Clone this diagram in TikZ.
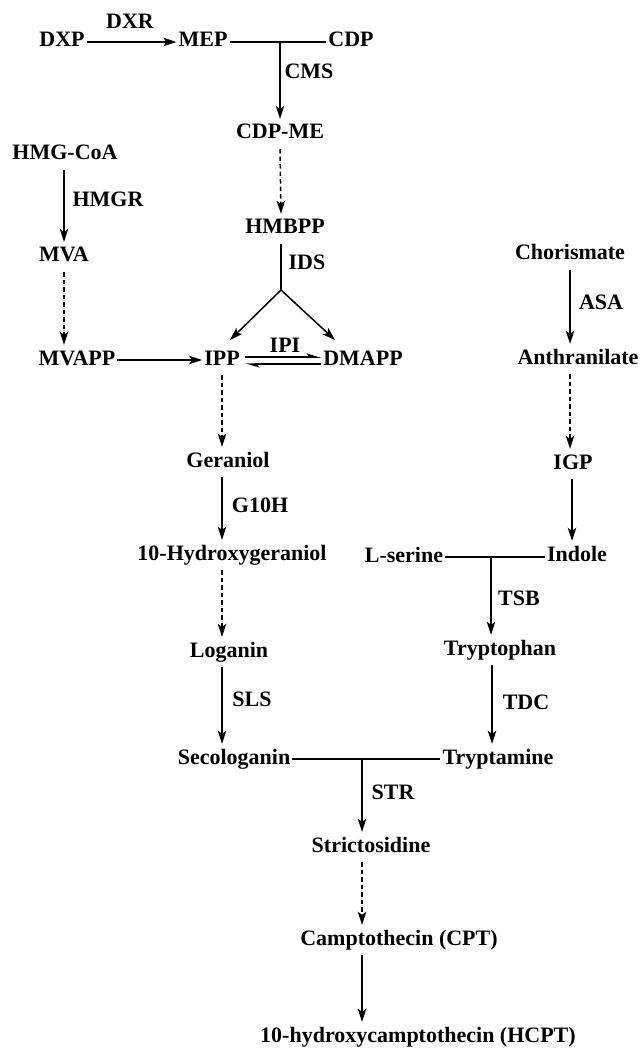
\documentclass[tikz,border=0pt]{standalone}
\usepackage{fontspec}
\setmainfont{Liberation Serif}
\usetikzlibrary{arrows.meta}
\begin{document}
\begin{tikzpicture}[x=1pt,y=1pt,
  cmp/.style={font=\fontsize{22}{24}\selectfont\bfseries, text height=14pt, text depth=4pt, inner xsep=2pt, inner ysep=6pt},
  rx/.style={line width=1.5pt, -{Stealth[length=13pt,width=8.5pt,inset=3pt]}},
  ln/.style={line width=1.5pt},
  dsh/.style={rx, dash pattern=on 4.5pt off 3pt},
  hp/.style={line width=1.5pt, -{Stealth[harpoon,length=12pt,width=7pt,inset=3pt]}},
  ]
\useasboundingbox (0,0) rectangle (641,-1048);
% nodes
\node[cmp] (dxp) at (62,-42) {DXP};
\node[cmp] (dxr) at (130,-24) {DXR};
\node[cmp] (mep) at (203,-42) {MEP};
\node[cmp] (cdp) at (351,-42) {CDP};
\node[cmp] (cms) at (309,-74) {CMS};
\node[cmp] (cdpme) at (280,-134) {CDP-ME};
\node[cmp] (hmgcoa) at (65,-155) {HMG-CoA};
\node[cmp] (hmgr) at (108,-202) {HMGR};
\node[cmp] (mva) at (64,-257) {MVA};
\node[cmp] (mvapp) at (77,-360) {MVAPP};
\node[cmp] (hmbpp) at (285,-229) {HMBPP};
\node[cmp] (ids) at (307,-265) {IDS};
\node[cmp] (ipp) at (222,-360) {IPP};
\node[cmp] (dmapp) at (363,-360) {DMAPP};
\node[cmp] (ipi) at (285,-347) {IPI};
\node[cmp] (ger) at (228,-462) {Geraniol};
\node[cmp] (g10h) at (260,-507) {G10H};
\node[cmp] (hyd) at (232,-555) {10-Hydroxygeraniol};
\node[cmp] (log) at (229,-652) {Loganin};
\node[cmp] (sls) at (252,-701) {SLS};
\node[cmp] (seco) at (234,-759) {Secologanin};
\node[cmp] (str) at (393,-794) {STR};
\node[cmp] (stric) at (371,-847) {Strictosidine};
\node[cmp] (cpt) at (399,-940) {Camptothecin (CPT)};
\node[cmp] (hcpt) at (418,-1037) {10-hydroxycamptothecin (HCPT)};
\node[cmp] (chor) at (570,-255) {Chorismate};
\node[cmp] (asa) at (601,-304) {ASA};
\node[cmp] (anth) at (578,-359) {Anthranilate};
\node[cmp] (igp) at (573,-464) {IGP};
\node[cmp] (ind) at (577,-556) {Indole};
\node[cmp] (ser) at (404,-557) {L-serine};
\node[cmp] (tsb) at (519,-600) {TSB};
\node[cmp] (trp) at (500,-650) {Tryptophan};
\node[cmp] (tdc) at (526,-704) {TDC};
\node[cmp] (tra) at (498,-759) {Tryptamine};
% column coordinates
\coordinate (c1) at (280,0);
\coordinate (c2) at (64,0);
\coordinate (c3) at (570,0);
\coordinate (c4) at (491,0);
\coordinate (c5) at (492,0);
\coordinate (c6) at (362,0);
\coordinate (c7) at (222,0);
\coordinate (c8) at (572,0);
\coordinate (br) at (281,-290);
\coordinate (ippin) at (230,-340);
\coordinate (dmin) at (335,-340);
% MEP pathway
\draw[rx] (dxp.east) -- (mep.west);
\draw[ln] (mep.east) -- (cdp.west);
\draw[rx] (mep.east -| c1) -- (cdpme.north -| c1);
\draw[dsh] (cdpme.south -| c1) -- (hmbpp.north -| br);
\draw[ln] (hmbpp.south -| br) -- (br);
\draw[rx] (br) -- (ippin);
\draw[rx] (br) -- (dmin);
% MVA pathway
\draw[rx] (hmgcoa.south -| c2) -- (mva.north -| c2);
\draw[dsh] (mva.south -| c2) -- (mvapp.north -| c2);
\draw[rx] (mvapp.east) -- (ipp.west);
% IPP <-> DMAPP
\draw[hp] ([shift={(3,3)}]ipp.east) -- ([shift={(0,3)}]dmapp.west);
\draw[hp] ([shift={(0,-4)}]dmapp.west) -- ([shift={(3,-4)}]ipp.east);
% terpenoid branch
\draw[dsh] (ipp.south -| c7) -- (ger.north -| c7);
\draw[rx] (ger.south -| c7) -- (hyd.north -| c7);
\draw[dsh] (hyd.south -| c7) -- (log.north -| c7);
\draw[rx] (log.south -| c7) -- (seco.north -| c7);
% indole branch
\draw[rx] (chor.south -| c3) -- (anth.north -| c3);
\draw[dsh] (anth.south -| c3) -- (igp.north -| c3);
\draw[rx] (igp.south -| c8) -- (ind.north -| c8);
\draw[ln] (ser.east) -- (ser.east -| ind.west);
\draw[rx] (ser.east -| c4) -- (trp.north -| c4);
\draw[rx] (trp.south -| c5) -- (tra.north -| c5);
% condensation
\draw[ln] (seco.east) -- (seco.east -| tra.west);
\draw[rx] (seco.east -| c6) -- (stric.north -| c6);
\draw[dsh] (stric.south -| c6) -- (cpt.north -| c6);
\draw[rx] (cpt.south -| c6) -- (hcpt.north -| c6);
\end{tikzpicture}
\end{document}
